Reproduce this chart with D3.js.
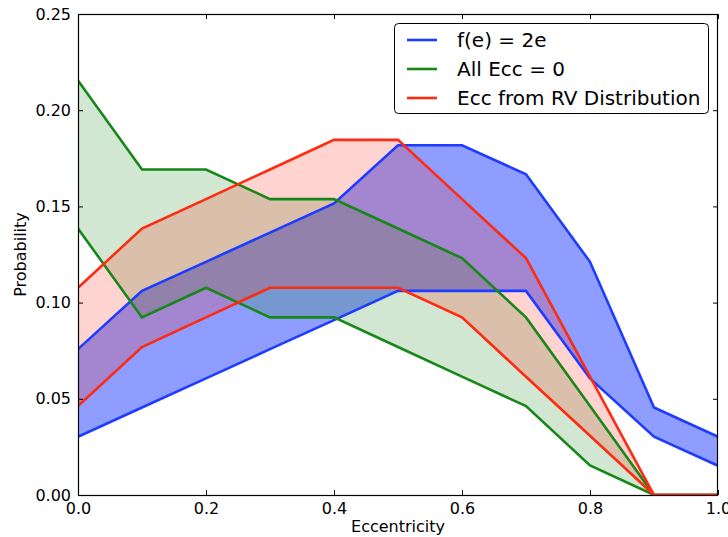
<!DOCTYPE html>
<html>
<head>
<meta charset="utf-8">
<script src="https://cdn.jsdelivr.net/npm/d3@7"></script>
<style>
  html, body { margin: 0; padding: 0; background: #fff; }
  svg { display: block; }
  text { font-family: "DejaVu Sans", sans-serif; fill: #000; }
</style>
</head>
<body>
<svg id="chart" width="728" height="537"></svg>
<script>
// ---- data ----
const ecc = [0.0, 0.1, 0.2, 0.3, 0.4, 0.5, 0.6, 0.7, 0.8, 0.9, 1.0];

const seriesNames = ["f(e) = 2e", "All Ecc = 0", "Ecc from RV Distribution"];

const blueUpper  = [0.0758, 0.1061, 0.1212, 0.1364, 0.1515, 0.1818, 0.1818, 0.1667, 0.1212, 0.0455, 0.0303];
const blueLower  = [0.0303, 0.0455, 0.0606, 0.0758, 0.0909, 0.1061, 0.1061, 0.1061, 0.0606, 0.0303, 0.0152];

const greenUpper = [0.2154, 0.1692, 0.1692, 0.1538, 0.1538, 0.1385, 0.1231, 0.0923, 0.0462, 0.0, 0.0];
const greenLower = [0.1385, 0.0923, 0.1077, 0.0923, 0.0923, 0.0769, 0.0615, 0.0462, 0.0154, 0.0, 0.0];

const redUpper   = [0.1077, 0.1385, 0.1538, 0.1692, 0.1846, 0.1846, 0.1538, 0.1231, 0.0615, 0.0, 0.0];
const redLower   = [0.0462, 0.0769, 0.0923, 0.1077, 0.1077, 0.1077, 0.0923, 0.0615, 0.0308, 0.0, 0.0];

const xTicks = [0.0, 0.2, 0.4, 0.6, 0.8, 1.0];
const yTicks = [0.00, 0.05, 0.10, 0.15, 0.20, 0.25];

// ---- layout ----
const L = 78, R = 718, T = 14, B = 495;
const svg = d3.select("#chart");

const x = d3.scaleLinear().domain([0, 1]).range([L, R]);
const y = d3.scaleLinear().domain([0, 0.25]).range([B, T]);

svg.append("defs").append("clipPath").attr("id", "plotclip")
  .append("rect").attr("x", L).attr("y", T).attr("width", R - L).attr("height", B - T);

const series = [
  { name: seriesNames[0], upper: blueUpper,  lower: blueLower,  color: "#1e3cff", fillOpacity: 0.5 },
  { name: seriesNames[1], upper: greenUpper, lower: greenLower, color: "#17871a", fillOpacity: 0.2 },
  { name: seriesNames[2], upper: redUpper,   lower: redLower,   color: "#ff2a12", fillOpacity: 0.2 }
];

const plot = svg.append("g").attr("clip-path", "url(#plotclip)");

const area = d3.area()
  .x((d, i) => x(ecc[i]))
  .y0(d => y(d[0]))
  .y1(d => y(d[1]));

const line = d3.line()
  .x((d, i) => x(ecc[i]))
  .y(d => y(d));

series.forEach(s => {
  const pts = s.upper.map((u, i) => [s.lower[i], u]);
  plot.append("path")
    .attr("d", area(pts))
    .attr("fill", s.color)
    .attr("fill-opacity", s.fillOpacity)
    .attr("stroke", "none");
});

series.forEach(s => {
  [s.upper, s.lower].forEach(arr => {
    plot.append("path")
      .attr("d", line(arr))
      .attr("fill", "none")
      .attr("stroke", s.color)
      .attr("stroke-width", 2.6)
      .attr("stroke-linejoin", "miter");
  });
});

// ---- axes ----
const tickLen = 5;
const xAxisB = d3.axisBottom(x).tickValues(xTicks).tickFormat(d3.format(".1f")).tickSizeInner(-tickLen).tickSizeOuter(0).tickPadding(8);
const xAxisT = d3.axisTop(x).tickValues(xTicks).tickFormat("").tickSizeInner(-tickLen).tickSizeOuter(0);
const yAxisL = d3.axisLeft(y).tickValues(yTicks).tickFormat(d3.format(".2f")).tickSizeInner(-tickLen).tickSizeOuter(0).tickPadding(7);
const yAxisR = d3.axisRight(y).tickValues(yTicks).tickFormat("").tickSizeInner(-tickLen).tickSizeOuter(0);

function styleAxis(g) {
  g.select(".domain").remove();
  g.selectAll(".tick line").attr("stroke", "#000").attr("stroke-width", 1);
  g.selectAll(".tick text").style("font-family", "DejaVu Sans, sans-serif").style("font-size", "16px").attr("fill", "#000");
}

svg.append("g").attr("transform", `translate(0,${B})`).call(xAxisB).call(styleAxis);
svg.append("g").attr("transform", `translate(0,${T})`).call(xAxisT).call(styleAxis);
svg.append("g").attr("transform", `translate(${L},0)`).call(yAxisL).call(styleAxis);
svg.append("g").attr("transform", `translate(${R},0)`).call(yAxisR).call(styleAxis);

// frame
svg.append("rect")
  .attr("x", L + 0.5).attr("y", T + 0.5)
  .attr("width", R - L - 1).attr("height", B - T)
  .attr("fill", "none").attr("stroke", "#000").attr("stroke-width", 1.2);

// axis labels
svg.append("text")
  .attr("x", (L + R) / 2).attr("y", 532)
  .attr("text-anchor", "middle")
  .style("font-size", "16px")
  .text("Eccentricity");

svg.append("text")
  .attr("transform", `translate(26,${(T + B) / 2}) rotate(-90)`)
  .attr("text-anchor", "middle")
  .style("font-size", "16px")
  .text("Probability");

// ---- legend ----
const lg = svg.append("g").attr("transform", "translate(394,23)");
lg.append("rect")
  .attr("x", 0.5).attr("y", 0.5).attr("width", 314).attr("height", 90)
  .attr("rx", 4).attr("ry", 4)
  .attr("fill", "#fff").attr("stroke", "#000").attr("stroke-width", 1);

series.forEach((s, i) => {
  const cy = 17 + i * 29;
  lg.append("line")
    .attr("x1", 13).attr("x2", 43).attr("y1", cy).attr("y2", cy)
    .attr("stroke", s.color).attr("stroke-width", 2.6);
  lg.append("text")
    .attr("x", 63).attr("y", cy)
    .attr("dy", "0.36em")
    .style("font-size", "20px")
    .text(s.name);
});
</script>
</body>
</html>
